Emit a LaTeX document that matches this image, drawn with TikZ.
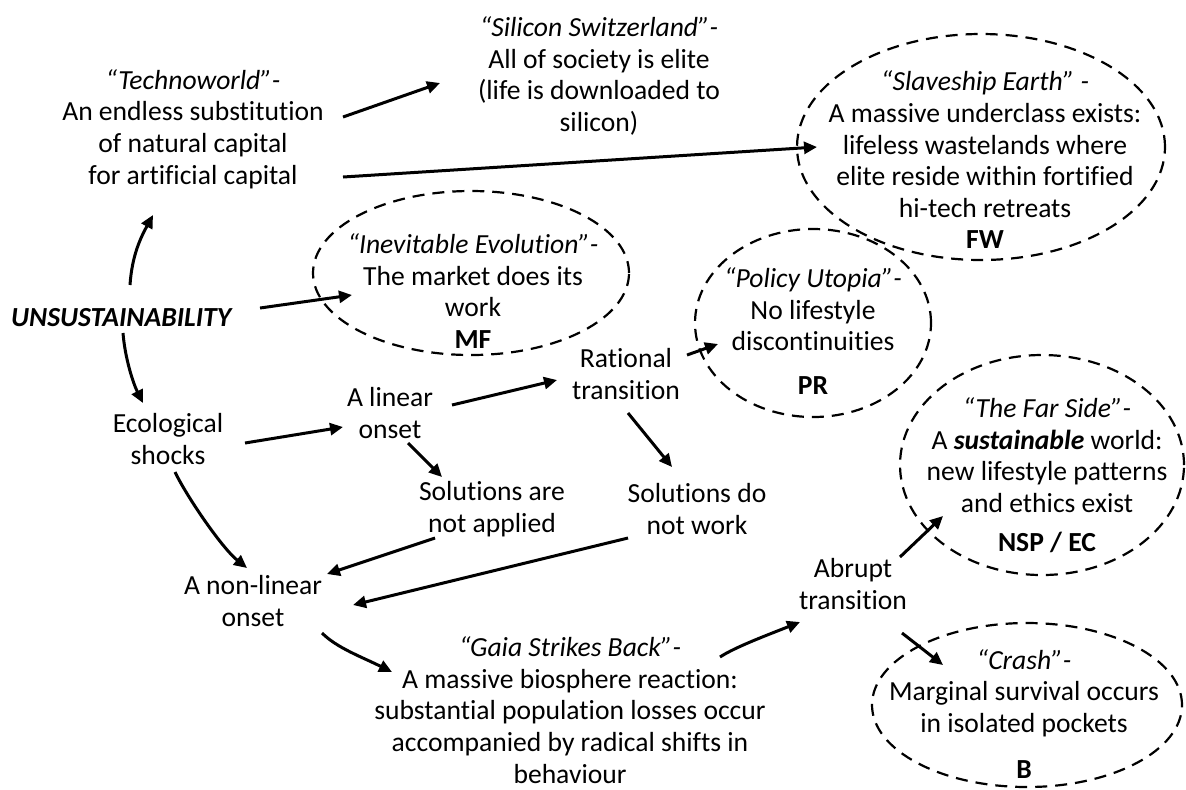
\documentclass[tikz,border=0pt]{standalone}
\usepackage{fontspec}
\setmainfont{Carlito}[Ligatures={NoCommon}]
\usetikzlibrary{arrows.meta,shapes.geometric}

\begin{document}
\begin{tikzpicture}[x=0.5pt,y=-0.5pt,
every node/.style={font=\fontsize{13.8}{15.8}\selectfont,align=center,inner sep=0pt},
arr/.style={-{Triangle[length=6.5pt,width=6pt]},line width=1.5pt},
oval/.style={ellipse,draw,dash pattern=on 6pt off 4pt,line width=1.1pt}]
\useasboundingbox (0,0) rectangle (1186,789);
\node (tech) at (193,129) {\textit{“Technoworld”-}\\An endless substitution\\of natural capital\\for artificial capital};
\node (silicon) at (599,76) {\textit{“Silicon Switzerland”-}\\All of society is elite\\(life is downloaded to\\silicon)};
\node [oval,minimum width=184pt,minimum height=113pt] (slaveO) at (981,147) {};
\node (slave) at (985,160) {\textit{“Slaveship Earth” -}\\A massive underclass exists:\\lifeless wastelands where\\elite reside within fortified\\hi-tech retreats\\\textbf{FW}};
\node [oval,minimum width=158pt,minimum height=82pt] (inevO) at (471,273) {};
\node (inev) at (473,291) {\textit{“Inevitable Evolution”-}\\The market does its\\work\\\textbf{MF}};
\node (unsust) at (122,318) {\textbf{\textit{UNSUSTAINABILITY}}};
\node [oval,minimum width=118pt,minimum height=94pt] (policyO) at (813,323) {};
\node (policy) at (813,331) {\textit{“Policy Utopia”-}\\No lifestyle\\discontinuities\\[6pt]\textbf{PR}};
\node (eco) at (168,439) {Ecological\\shocks};
\node (linear) at (390,413) {A linear\\onset};
\node (rational) at (626,374) {Rational\\transition};
\node (solA) at (492,509) {Solutions are\\not applied};
\node (solB) at (697,509) {Solutions do\\not work};
\node [oval,minimum width=142pt,minimum height=110pt] (farO) at (1042,465) {};
\node (far) at (1047,475) {\textit{“The Far Side”-}\\A \textbf{\textit{sustainable}} world:\\new lifestyle patterns\\and ethics exist\\[3.5pt]\textbf{NSP / EC}};
\node (nonlin) at (253,601) {A non-linear\\onset};
\node (abrupt) at (853,584) {Abrupt\\transition};
\node (gaia) at (570,710) {\textit{“Gaia Strikes Back”-}\\A massive biosphere reaction:\\substantial population losses occur\\accompanied by radical shifts in\\behaviour};
\node [oval,minimum width=155pt,minimum height=82pt] (crashO) at (1027,705) {};
\node (crash) at (1024,714) {\textit{“Crash”-}\\Marginal survival occurs\\in isolated pockets\\[7.5pt]\textbf{B}};

\draw[arr] ([shift={(150,-12)}]tech.center) -- ([shift={(-159,7)}]silicon.center);
\draw[arr] ([shift={(150,48)}]tech.center) -- ([shift={(-168,-13)}]slave.center);
\draw[arr] ([shift={(8,-33)}]unsust.center) .. controls +(2,-30) and +(-12,22) .. ([shift={(-40,86)}]tech.center);
\draw[arr] ([shift={(138,-10)}]unsust.center) -- ([shift={(-121,4)}]inev.center);
\draw[arr] ([shift={(1,15)}]unsust.center) .. controls +(2,25) and +(-10,-20) .. ([shift={(-25,-36)}]eco.center);
\draw[arr] ([shift={(77,4)}]eco.center) -- ([shift={(-47,14)}]linear.center);
\draw[arr] ([shift={(7,33)}]eco.center) .. controls +(12,25) and +(-25,-20) .. ([shift={(-6,-33)}]nonlin.center);
\draw[arr] ([shift={(62,-8)}]linear.center) -- ([shift={(-69,6)}]rational.center);
\draw[arr] ([shift={(18,30)}]linear.center) -- ([shift={(-50,-32)}]solA.center);
\draw[arr] ([shift={(2,39)}]rational.center) -- ([shift={(-25,-42)}]solB.center);
\draw[arr] ([shift={(61,-19)}]rational.center) -- ([shift={(-95,13)}]policy.center);
\draw[arr] ([shift={(-57,29)}]solA.center) -- ([shift={(74,-27)}]nonlin.center);
\draw[arr] ([shift={(-69,29)}]solB.center) -- ([shift={(100,4)}]nonlin.center);
\draw[arr] ([shift={(69,32)}]nonlin.center) .. controls +(15,15) and +(-30,-15) .. ([shift={(-178,-38)}]gaia.center);
\draw[arr] ([shift={(150,-53)}]gaia.center) .. controls +(15,-10) and +(-30,12) .. ([shift={(-53,38)}]abrupt.center);
\draw[arr] ([shift={(47,-27)}]abrupt.center) -- ([shift={(-104,41)}]far.center);
\draw[arr] ([shift={(49,49)}]abrupt.center) -- ([shift={(-81,-49)}]crash.center);
\end{tikzpicture}
\end{document}
